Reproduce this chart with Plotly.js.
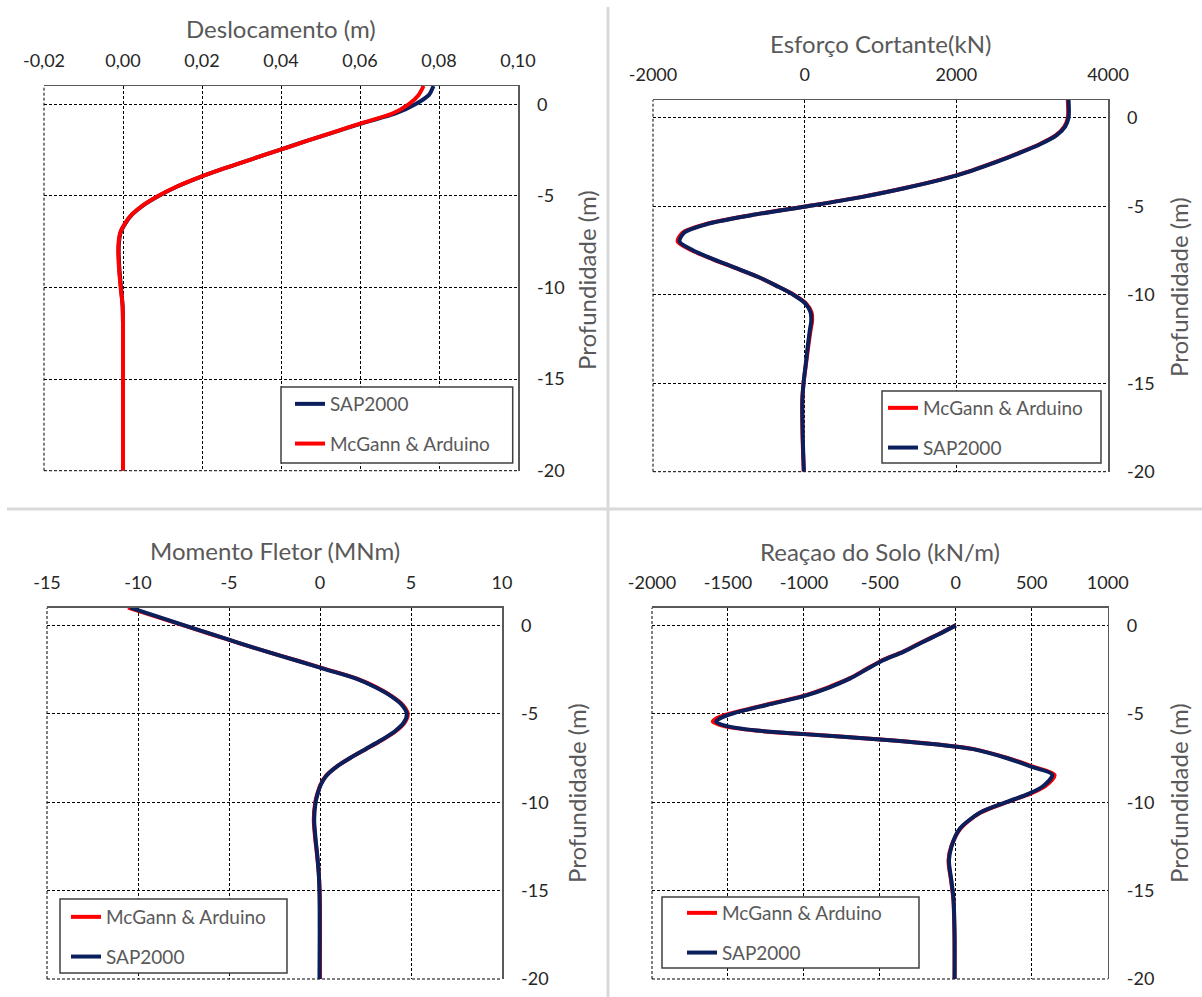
<!DOCTYPE html>
<html>
<head>
<meta charset="utf-8">
<script src="https://cdn.plot.ly/plotly-3.0.1.min.js"></script>
<style>
  html, body { margin: 0; padding: 0; background: #ffffff; }
  #chart { width: 1202px; height: 997px; }
</style>
</head>
<body>
<div id="chart"></div>
<script>
// ---------------- DATA ----------------
// Panel 1: Deslocamento (m)
const depthDesl = [1, 0.5, 0, -0.5, -1, -1.5, -2, -2.5, -3, -3.5, -4, -4.5, -5, -5.5, -6, -6.5, -7, -7.5, -8, -9, -10, -11, -12, -14, -16, -18, -20];
const deslSAP   = [0.0786, 0.0774, 0.0740, 0.0690, 0.0611, 0.0537, 0.0465, 0.0395, 0.0325, 0.0256, 0.0192, 0.0136, 0.0090, 0.0052, 0.0024, 0.0006, -0.0006, -0.0010, -0.0011, -0.0009, -0.0005, -0.0001, 0.0000, 0.0000, 0.0000, 0.0000, 0.0000];
const deslMcG   = [0.0761, 0.0748, 0.0723, 0.0682, 0.0608, 0.0536, 0.0465, 0.0395, 0.0325, 0.0256, 0.0191, 0.0135, 0.0089, 0.0051, 0.0023, 0.0005, -0.0007, -0.0011, -0.0012, -0.0010, -0.0006, -0.0001, 0.0000, 0.0000, 0.0000, 0.0000, 0.0000];

// Panel 2: Esforço Cortante (kN)
const depthCort = [1, 0, -0.5, -1, -1.5, -2, -2.5, -3, -3.5, -4, -4.5, -5, -5.5, -6, -6.5, -7, -7.5, -8, -8.5, -9, -9.5, -10, -10.5, -11, -11.5, -12, -13, -14, -15, -16, -18, -20];
const cortMcG   = [3470, 3470, 3425, 3310, 3095, 2820, 2520, 2190, 1790, 1290, 720, 30, -700, -1295, -1610, -1675, -1485, -1210, -910, -615, -370, -145, 20, 90, 98, 78, 45, 15, -15, -32, -28, -12];
const cortSAP   = [3480, 3480, 3435, 3320, 3105, 2830, 2530, 2200, 1800, 1300, 730, 40, -690, -1280, -1590, -1650, -1470, -1200, -900, -610, -370, -150, 10, 78, 86, 68, 38, 12, -15, -30, -25, -10];

// Panel 3: Momento Fletor (MNm)
const depthMom = [1, 0, -0.5, -1, -1.5, -2, -2.5, -3, -3.5, -4, -4.5, -5, -5.5, -6, -6.5, -7, -7.5, -8, -8.5, -9, -9.5, -10, -11, -12, -13, -14, -15, -16, -18, -20];
const momMcG   = [-10.55, -7.50, -5.98, -4.45, -2.88, -1.22, 0.40, 1.99, 3.10, 3.94, 4.55, 4.82, 4.65, 4.14, 3.38, 2.52, 1.66, 0.90, 0.34, 0.03, -0.14, -0.26, -0.34, -0.27, -0.16, -0.07, -0.02, 0.00, 0.00, 0.00];
const momSAP   = [-10.42, -7.45, -5.95, -4.43, -2.88, -1.25, 0.35, 1.95, 3.05, 3.90, 4.50, 4.77, 4.60, 4.10, 3.35, 2.50, 1.65, 0.90, 0.35, 0.05, -0.12, -0.24, -0.32, -0.25, -0.15, -0.07, -0.03, -0.02, -0.02, -0.03];

// Panel 4: Reação do Solo (kN/m)
const depthReac = [0, -0.5, -1, -1.5, -2, -2.5, -3, -3.5, -4, -4.5, -5, -5.25, -5.45, -5.7, -5.95, -6.15, -6.45, -6.75, -7, -7.5, -8, -8.45, -9.1, -9.5, -10, -10.6, -11.5, -12.5, -13.3, -14.5, -15.5, -17.5, -20];
const reacMcG   = [0, -115, -235, -350, -490, -595, -700, -840, -1010, -1255, -1490, -1575, -1600, -1525, -1320, -1000, -495, -100, 120, 340, 512, 650, 588, 495, 335, 160, 30, -30, -48, -30, -16, -9, -8];
const reacSAP   = [0, -112, -230, -345, -485, -590, -695, -830, -1000, -1245, -1475, -1551, -1577, -1505, -1310, -1000, -500, -105, 114, 333, 500, 635, 574, 486, 333, 158, 26, -28, -45, -28, -15, -8, -8];

// Tick labels
const ticksDeslVals = [-0.02, 0, 0.02, 0.04, 0.06, 0.08, 0.10];
const ticksDeslText = ['-0,02', '0,00', '0,02', '0,04', '0,06', '0,08', '0,10'];
const ticksCortVals = [-2000, 0, 2000, 4000];
const ticksCortText = ['-2000', '0', '2000', '4000'];
const ticksMomVals  = [-15, -10, -5, 0, 5, 10];
const ticksMomText  = ['-15', '-10', '-5', '0', '5', '10'];
const ticksReacVals = [-2000, -1500, -1000, -500, 0, 500, 1000];
const ticksReacText = ['-2000', '-1500', '-1000', '-500', '0', '500', '1000'];
const ticksDepthVals = [0, -5, -10, -15, -20];
const ticksDepthText = ['0', '-5', '-10', '-15', '-20'];

const nameSAP = 'SAP2000';
const nameMcG = 'McGann &amp; Arduino';

// ---------------- STYLE ----------------
const FONT = 'Lato, "Open Sans", sans-serif';
const RED = '#ff0000';
const BLUE = '#0a1f5c';
const LW = 4;
const W = 1202, H = 997;
const px = v => v / W;
const py = v => 1 - v / H;

function line(x, y, name, color, xa, ya, lg, grp) {
  return {
    type: 'scatter', mode: 'lines', x: x, y: y, name: name,
    xaxis: xa, yaxis: ya, legend: lg, legendgroup: grp,
    line: { color: color, width: LW, shape: 'spline', smoothing: 0.8 },
    hoverinfo: 'skip'
  };
}

const data = [
  line(deslSAP, depthDesl, nameSAP, BLUE, 'x', 'y', 'legend', 'a1'),
  line(deslMcG, depthDesl, nameMcG, RED, 'x', 'y', 'legend', 'b1'),
  line(cortMcG, depthCort, nameMcG, RED, 'x2', 'y2', 'legend2', 'a2'),
  line(cortSAP, depthCort, nameSAP, BLUE, 'x2', 'y2', 'legend2', 'b2'),
  line(momMcG, depthMom, nameMcG, RED, 'x3', 'y3', 'legend3', 'a3'),
  line(momSAP, depthMom, nameSAP, BLUE, 'x3', 'y3', 'legend3', 'b3'),
  line(reacMcG, depthReac, nameMcG, RED, 'x4', 'y4', 'legend4', 'a4'),
  line(reacSAP, depthReac, nameSAP, BLUE, 'x4', 'y4', 'legend4', 'b4')
];

const GRID = '#000000';
function xAxis(domain, range, vals, text, anchor) {
  return {
    domain: domain, range: range, anchor: anchor, side: 'top',
    tickmode: 'array', tickvals: vals, ticktext: text,
    showline: true, linecolor: '#595959', linewidth: 1.5, mirror: false,
    showgrid: true, gridcolor: GRID, gridwidth: 1, griddash: '3px,2px',
    zeroline: false, ticks: '', ticklabelstandoff: 10,
    tickfont: { family: FONT, size: 18, color: '#262626' },
    fixedrange: true
  };
}
function yAxis(domain, anchor) {
  return {
    domain: domain, range: [-20, 1], anchor: anchor, side: 'right',
    tickmode: 'array', tickvals: ticksDepthVals, ticktext: ticksDepthText,
    showline: true, linecolor: '#595959', linewidth: 1.5, mirror: false,
    showgrid: true, gridcolor: GRID, gridwidth: 1, griddash: '3px,2px',
    zeroline: false, ticks: '', ticklabelstandoff: 14,
    tickfont: { family: FONT, size: 18, color: '#262626' },
    fixedrange: true
  };
}
function legend(x, y) {
  return {
    x: px(x), y: py(y), xanchor: 'left', yanchor: 'top',
    bgcolor: 'rgba(0,0,0,0)', borderwidth: 0,
    font: { family: FONT, size: 19, color: '#595959' },
    tracegroupgap: 12, itemwidth: 30, traceorder: 'grouped'
  };
}
function title(text, x, y) {
  return { text: text, x: px(x), y: py(y), xref: 'paper', yref: 'paper',
    xanchor: 'center', yanchor: 'middle', showarrow: false,
    font: { family: FONT, size: 24, color: '#595959' } };
}
function ytitle(x, y) {
  return { text: 'Profundidade (m)', x: px(x), y: py(y), xref: 'paper', yref: 'paper',
    xanchor: 'center', yanchor: 'middle', showarrow: false, textangle: -90,
    font: { family: FONT, size: 24, color: '#595959' } };
}
// dashed grid lines along the left and bottom edges of each plot area
function edges(xa, ya) {
  const st = { color: GRID, width: 1, dash: '3px,2px' };
  return [
    { type: 'line', xref: xa + ' domain', yref: ya + ' domain', x0: 0, x1: 0, y0: 0, y1: 1, line: st, layer: 'below' },
    { type: 'line', xref: xa + ' domain', yref: ya + ' domain', x0: 0, x1: 1, y0: 0, y1: 0, line: st, layer: 'below' }
  ];
}
// legend frame (white, bordered)
function frame(x0, y0, x1, y1) {
  return { type: 'rect', xref: 'paper', yref: 'paper', layer: 'above',
    x0: px(x0), x1: px(x1), y0: py(y1), y1: py(y0),
    fillcolor: '#ffffff', line: { color: '#404040', width: 1.5 } };
}

const layout = {
  width: W, height: H,
  margin: { l: 0, r: 0, t: 0, b: 0 },
  paper_bgcolor: '#ffffff', plot_bgcolor: '#ffffff',
  showlegend: true,
  xaxis:  xAxis([px(44), px(518)], [-0.02, 0.10], ticksDeslVals, ticksDeslText, 'y'),
  yaxis:  yAxis([py(470.7), py(86)], 'x'),
  xaxis2: xAxis([px(653), px(1108)], [-2000, 4000], ticksCortVals, ticksCortText, 'y2'),
  yaxis2: yAxis([py(471.7), py(100)], 'x2'),
  xaxis3: xAxis([px(47), px(502)], [-15, 10], ticksMomVals, ticksMomText, 'y3'),
  yaxis3: yAxis([py(979), py(607.7)], 'x3'),
  xaxis4: xAxis([px(652), px(1107.7)], [-2000, 1000], ticksReacVals, ticksReacText, 'y4'),
  yaxis4: yAxis([py(979), py(607.7)], 'x4'),
  legend:  legend(290, 385),
  legend2: legend(883, 389),
  legend3: legend(66, 898),
  legend4: legend(682, 894),
  annotations: [
    title('Deslocamento (m)', 281, 29),
    title('Esforço Cortante(kN)', 880, 43),
    title('Momento Fletor (MNm)', 275, 550),
    title('Reaçao do Solo (kN/m)', 880, 551),
    ytitle(587, 280),
    ytitle(1178, 287),
    ytitle(576, 793),
    ytitle(1178, 793)
  ],
  shapes: [].concat(
    edges('x', 'y'), edges('x2', 'y2'), edges('x3', 'y3'), edges('x4', 'y4'),
    [
      frame(281, 387, 512.7, 463),
      frame(882, 391, 1101, 463),
      frame(60, 899, 287, 973),
      frame(662, 897, 919, 968),
      { type: 'line', xref: 'paper', yref: 'paper', x0: px(608), x1: px(608), y0: py(7), y1: 0,
        line: { color: '#d9d9d9', width: 3 } },
      { type: 'line', xref: 'paper', yref: 'paper', x0: px(7), x1: 1, y0: py(509), y1: py(509),
        line: { color: '#d9d9d9', width: 3 } }
    ])
};

Plotly.newPlot('chart', data, layout, { staticPlot: true, displayModeBar: false });
</script>
</body>
</html>
